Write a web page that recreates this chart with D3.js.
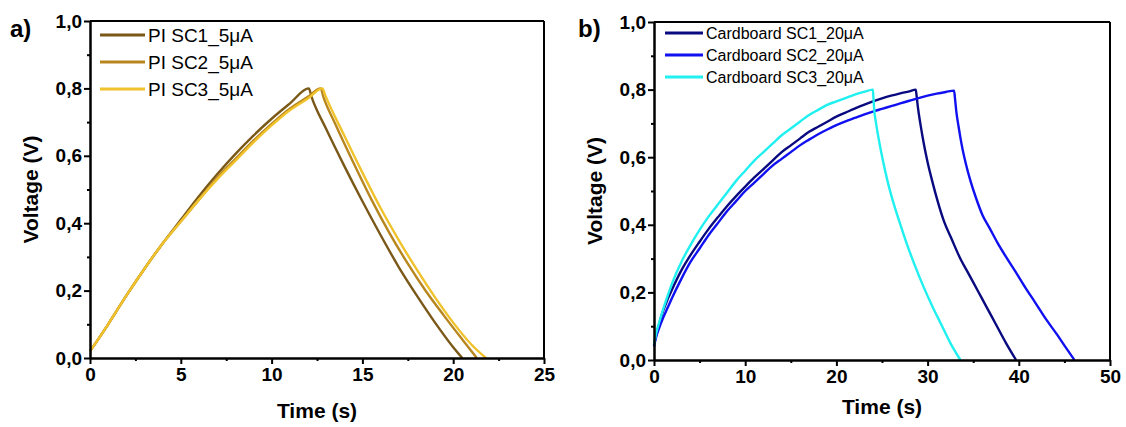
<!doctype html>
<html>
<head>
<meta charset="utf-8">
<script src="https://d3js.org/d3.v7.min.js"></script>
<style>
  body { margin: 0; background: #fff; }
  svg { display: block; font-family: Arial, "Liberation Sans", sans-serif; }
  .axis path, .axis line { stroke: #000; stroke-width: 2px; }
  .axis text { font-size: 19px; font-weight: bold; fill: #000; }
  .title { font-size: 21px; font-weight: bold; }
  .panel { font-size: 24px; font-weight: bold; }
</style>
</head>
<body>
<svg id="chart" width="1126" height="427"></svg>
<script>
// ---- panel a) PI substrate, 5 uA ----
var piNames = ["PI SC1_5\u03bcA", "PI SC2_5\u03bcA", "PI SC3_5\u03bcA"];
var piColors = ["#7a5818", "#b8861e", "#f0c22c"];
var piSC1 = [[0,0.02],[1,0.10],[2,0.185],[3,0.265],[4,0.34],[5,0.41],[6,0.48],[7,0.545],[8,0.605],[9,0.66],[10,0.71],[11,0.755],[12.05,0.80],
             [12.2,0.775],[13,0.68],[14,0.57],[15,0.465],[16,0.365],[17,0.27],[18,0.185],[19,0.105],[20,0.032],[20.5,0]];
var piSC2 = [[0,0.02],[1,0.10],[2,0.185],[3,0.265],[4,0.34],[5,0.405],[6,0.47],[7,0.535],[8,0.59],[9,0.645],[10,0.695],[11,0.74],[12,0.775],[12.7,0.80],
             [12.85,0.775],[13.5,0.695],[14.5,0.58],[15.5,0.47],[16.5,0.37],[17.5,0.28],[18.5,0.198],[19.5,0.125],[20.5,0.055],[21.3,0]];
var piSC3 = [[0,0.02],[1,0.10],[2,0.185],[3,0.265],[4,0.34],[5,0.405],[6,0.47],[7,0.53],[8,0.585],[9,0.64],[10,0.69],[11,0.735],[12,0.77],[12.8,0.80],
             [12.95,0.78],[14,0.66],[15,0.55],[16,0.445],[17,0.35],[18,0.262],[19,0.18],[20,0.105],[21,0.04],[21.8,0]];
var piXTicks = [0, 5, 10, 15, 20, 25];
var piXMinor = [2.5, 7.5, 12.5, 17.5, 22.5];

// ---- panel b) cardboard substrate, 20 uA ----
var cbNames = ["Cardboard SC1_20\u03bcA", "Cardboard SC2_20\u03bcA", "Cardboard SC3_20\u03bcA"];
var cbColors = ["#0a0a80", "#1010f0", "#20f0f0"];
var cbSC1 = [[0,0.045],[0.25,0.075],[0.5,0.1],[1,0.145],[1.5,0.18],[2,0.21],[3,0.265],[4,0.31],[5,0.35],[6,0.388],[7,0.422],[8,0.455],[9,0.485],[10,0.513],
             [11,0.54],[12,0.565],[13,0.59],[14,0.615],[15,0.635],[16,0.655],[17,0.675],[18,0.69],[19,0.705],[20,0.72],[21,0.732],[22,0.744],[23,0.755],
             [24,0.765],[25,0.774],[26,0.782],[27,0.789],[28,0.795],[28.7,0.80],
             [28.8,0.78],[28.95,0.745],[29.2,0.70],[29.55,0.645],[30,0.585],[30.5,0.53],[31.1,0.47],[31.8,0.41],[32.6,0.36],[33.5,0.305],
             [34.5,0.255],[35.5,0.205],[36.5,0.155],[37.5,0.105],[38.6,0.05],[39.7,0]];
var cbSC2 = [[0,0.04],[0.25,0.07],[0.5,0.09],[1,0.125],[1.5,0.155],[2,0.185],[3,0.24],[4,0.29],[5,0.33],[6,0.37],[7,0.405],[8,0.44],[9,0.47],[10,0.5],
             [11,0.525],[12,0.55],[13,0.575],[14,0.595],[15,0.615],[16,0.635],[17,0.652],[18,0.668],[19,0.682],[20,0.695],[21,0.706],[22,0.716],[23,0.726],
             [24,0.735],[25,0.743],[26,0.751],[27,0.759],[28,0.767],[29,0.775],[30,0.782],[31,0.788],[32,0.793],[32.9,0.797],
             [33.0,0.775],[33.15,0.735],[33.4,0.69],[33.75,0.635],[34.2,0.58],[34.7,0.53],[35.3,0.48],[36,0.43],[36.8,0.39],[37.7,0.345],
             [38.6,0.305],[39.6,0.263],[40.7,0.215],[41.8,0.17],[43,0.12],[44.2,0.075],[45.2,0.035],[46.1,0]];
var cbSC3 = [[0,0.045],[0.25,0.08],[0.5,0.105],[1,0.15],[1.5,0.19],[2,0.228],[3,0.29],[4,0.34],[5,0.385],[6,0.425],[7,0.46],[8,0.495],[9,0.53],[10,0.56],
             [11,0.59],[12,0.615],[13,0.64],[14,0.665],[15,0.685],[16,0.705],[17,0.725],[18,0.74],[19,0.755],[20,0.765],[21,0.775],[22,0.785],[23,0.793],[24,0.80],
             [24.05,0.78],[24.15,0.74],[24.35,0.70],[24.7,0.645],[25.1,0.59],[25.6,0.53],[26.2,0.47],[26.9,0.41],[27.7,0.345],[28.6,0.28],
             [29.5,0.22],[30.5,0.16],[31.5,0.105],[32.5,0.05],[33.6,0]];
var cbXTicks = [0, 10, 20, 30, 40, 50];
var cbXMinor = [5, 15, 25, 35, 45];

var yTicks = [0, 0.2, 0.4, 0.6, 0.8, 1.0];
var yMinor = [0.1, 0.3, 0.5, 0.7, 0.9];

var svg = d3.select("#chart");
var fmt = function(d) { return d.toFixed(1).replace(".", ","); };

function drawPanel(p) {
    var x = d3.scaleLinear().domain(p.xDomain).range([p.left, p.right]);
    var y = d3.scaleLinear().domain([0, 1]).range([p.bottom, p.top]);
    var g = svg.append("g");

    // box
    g.append("line").attr("x1", p.left).attr("x2", p.right).attr("y1", p.top).attr("y2", p.top)
        .attr("stroke", "#000").attr("stroke-width", 2);
    g.append("line").attr("x1", p.right).attr("x2", p.right).attr("y1", p.top).attr("y2", p.bottom)
        .attr("stroke", "#000").attr("stroke-width", 2);

    // curves
    var line = d3.line().x(function(d) { return x(d[0]); }).y(function(d) { return y(d[1]); })
        .curve(d3.curveMonotoneX);
    p.series.forEach(function(s, i) {
        g.append("path").datum(s).attr("d", line).attr("fill", "none")
            .attr("stroke", p.colors[i]).attr("stroke-width", 2.4).attr("stroke-linejoin", "round");
    });

    // axes
    g.append("g").attr("class", "axis").attr("transform", "translate(0," + p.bottom + ")")
        .call(d3.axisBottom(x).tickValues(p.xTicks).tickSize(6).tickSizeOuter(0).tickPadding(4).tickFormat(d3.format("d")));
    g.append("g").attr("class", "axis").attr("transform", "translate(0," + p.bottom + ")")
        .call(d3.axisBottom(x).tickValues(p.xMinor).tickSize(3).tickSizeOuter(0).tickFormat(""));
    g.append("g").attr("class", "axis").attr("transform", "translate(" + p.left + ",0)")
        .call(d3.axisLeft(y).tickValues(yTicks).tickSize(6).tickSizeOuter(0).tickPadding(2).tickFormat(fmt));
    g.append("g").attr("class", "axis").attr("transform", "translate(" + p.left + ",0)")
        .call(d3.axisLeft(y).tickValues(yMinor).tickSize(3).tickSizeOuter(0).tickFormat(""));

    // titles
    g.append("text").attr("class", "title").attr("text-anchor", "middle")
        .attr("x", (p.left + p.right) / 2).attr("y", p.xTitleY).text("Time (s)");
    g.append("text").attr("class", "title").attr("text-anchor", "middle")
        .attr("transform", "translate(" + p.yTitleX + "," + ((p.top + p.bottom) / 2) + ") rotate(-90)")
        .text("Voltage (V)");
    g.append("text").attr("class", "panel").attr("x", p.tagX).attr("y", 37).text(p.tag);

    // legend
    var lg = g.append("g").attr("transform", "translate(" + p.legX + "," + p.legY + ")");
    p.names.forEach(function(n, i) {
        var row = lg.append("g").attr("transform", "translate(0," + (i * p.legStep) + ")");
        row.append("line").attr("x1", 0).attr("x2", p.legLen).attr("y1", 0).attr("y2", 0)
            .attr("stroke", p.colors[i]).attr("stroke-width", 2.8);
        row.append("text").attr("x", p.legLen + 3).attr("y", 0).attr("dy", "0.35em")
            .style("font-size", p.legFont + "px").text(n);
    });
}

drawPanel({
    xDomain: [0, 25], left: 90, right: 544, top: 21, bottom: 358,
    series: [piSC1, piSC2, piSC3], colors: piColors, names: piNames,
    xTicks: piXTicks, xMinor: piXMinor,
    xTitleY: 418, yTitleX: 38, tag: "a)", tagX: 10,
    legX: 100, legY: 35, legStep: 27, legLen: 45, legFont: 19
});

drawPanel({
    xDomain: [0, 50], left: 654, right: 1110, top: 22, bottom: 360,
    series: [cbSC1, cbSC2, cbSC3], colors: cbColors, names: cbNames,
    xTicks: cbXTicks, xMinor: cbXMinor,
    xTitleY: 414, yTitleX: 602, tag: "b)", tagX: 578,
    legX: 665, legY: 33, legStep: 22, legLen: 38, legFont: 16
});
</script>
</body>
</html>
